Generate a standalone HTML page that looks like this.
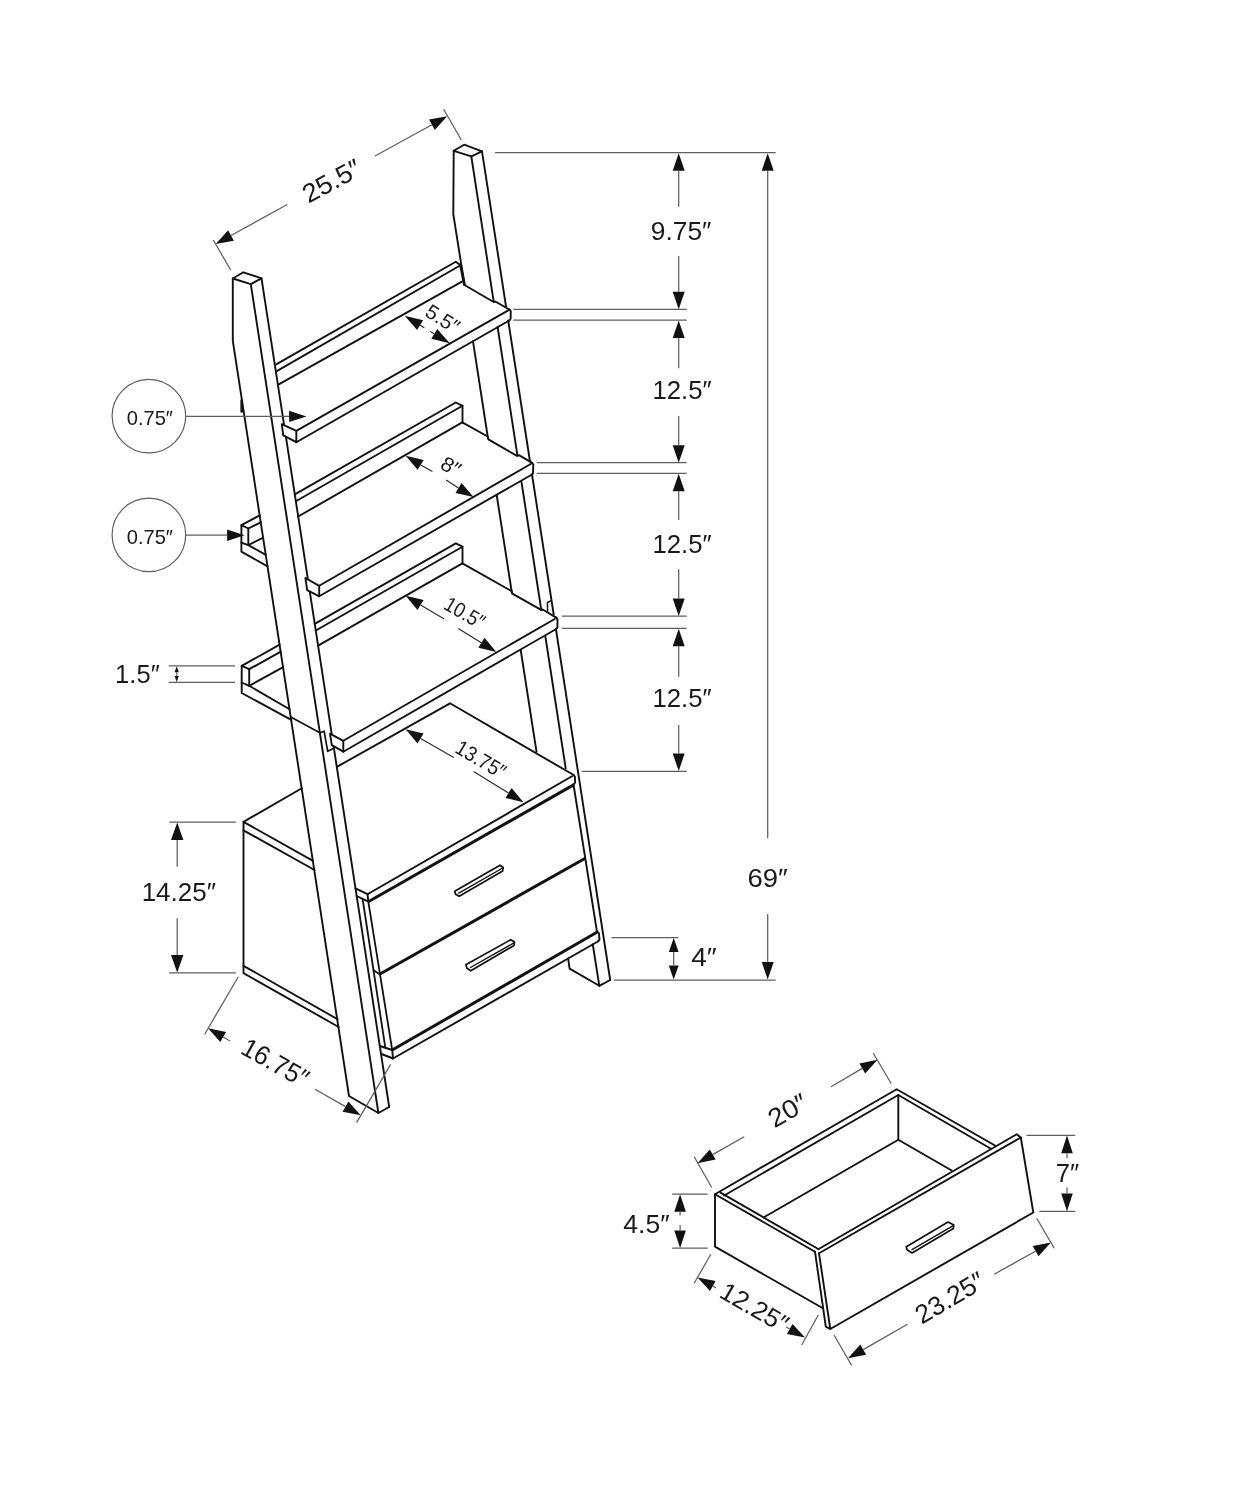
<!DOCTYPE html>
<html><head><meta charset="utf-8"><title>Ladder bookcase dimensions</title>
<style>
html,body{margin:0;padding:0;background:#fff}
body{width:1236px;height:1500px;overflow:hidden}
svg{display:block;filter:grayscale(1)}
text{font-family:"Liberation Sans",sans-serif}
</style></head><body>
<svg width="1236" height="1500" viewBox="0 0 1236 1500">
<rect width="1236" height="1500" fill="#fff"/>
<path d="M232.8 278.5 L243.3 272.3 L261.5 278.3 L250.8 284.2 L232.8 278.5" stroke="#111" stroke-width="1.9" fill="none" stroke-linecap="round" stroke-linejoin="round"/>
<path d="M232.8 278.5 L232.8 340.8 L349 1096 L378.4 1113 L389.2 1107" stroke="#111" stroke-width="1.9" fill="none" stroke-linecap="round" stroke-linejoin="round"/>
<path d="M250.8 284.2 L378.4 1113" stroke="#111" stroke-width="1.9" fill="none" stroke-linecap="round" stroke-linejoin="round"/>
<path d="M261.5 278.3 L389.2 1107" stroke="#111" stroke-width="1.9" fill="none" stroke-linecap="round" stroke-linejoin="round"/>
<path d="M241.7 400.5 L241.7 411.5" stroke="#111" stroke-width="2.6" fill="none" stroke-linecap="round" stroke-linejoin="round"/>
<path d="M453.7 150.8 L464.2 144.7 L482 151.3 L471.3 156.3 L453.7 150.8" stroke="#111" stroke-width="1.9" fill="none" stroke-linecap="round" stroke-linejoin="round"/>
<path d="M453.7 150.8 L453.3 214.2 L464.5 285" stroke="#111" stroke-width="1.9" fill="none" stroke-linecap="round" stroke-linejoin="round"/>
<path d="M460.6 265.2 L464.4 284.5" stroke="#111" stroke-width="2.8" fill="none" stroke-linecap="round" stroke-linejoin="round"/>
<path d="M471.3 156.3 L493.7 301.7" stroke="#111" stroke-width="1.9" fill="none" stroke-linecap="round" stroke-linejoin="round"/>
<path d="M482 151.3 L506.1 307" stroke="#111" stroke-width="1.9" fill="none" stroke-linecap="round" stroke-linejoin="round"/>
<path d="M473 341.4 L488 438.5" stroke="#111" stroke-width="1.9" fill="none" stroke-linecap="round" stroke-linejoin="round"/>
<path d="M497.6 327 L517.5 455.8" stroke="#111" stroke-width="1.9" fill="none" stroke-linecap="round" stroke-linejoin="round"/>
<path d="M508.2 320.5 L530 461.5" stroke="#111" stroke-width="1.9" fill="none" stroke-linecap="round" stroke-linejoin="round"/>
<path d="M496.7 495 L511.9 593" stroke="#111" stroke-width="1.9" fill="none" stroke-linecap="round" stroke-linejoin="round"/>
<path d="M521.4 481.5 L541.3 610" stroke="#111" stroke-width="1.9" fill="none" stroke-linecap="round" stroke-linejoin="round"/>
<path d="M532 474.5 L553.7 614.5" stroke="#111" stroke-width="1.9" fill="none" stroke-linecap="round" stroke-linejoin="round"/>
<path d="M547.5 611.7 L547.5 602.5 L550.8 600.8" stroke="#111" stroke-width="1.5" fill="none" stroke-linecap="round" stroke-linejoin="round"/>
<path d="M520.7 650 L536.5 751.7" stroke="#111" stroke-width="1.9" fill="none" stroke-linecap="round" stroke-linejoin="round"/>
<path d="M545.3 636 L565.7 768.3" stroke="#111" stroke-width="1.9" fill="none" stroke-linecap="round" stroke-linejoin="round"/>
<path d="M556 629.5 L610.2 980" stroke="#111" stroke-width="1.9" fill="none" stroke-linecap="round" stroke-linejoin="round"/>
<path d="M568.2 958.8 L569.6 968.6 L599.3 985.8 L610.2 980" stroke="#111" stroke-width="1.9" fill="none" stroke-linecap="round" stroke-linejoin="round"/>
<path d="M592.8 944.5 L599.3 985.8" stroke="#111" stroke-width="1.9" fill="none" stroke-linecap="round" stroke-linejoin="round"/>
<path d="M274.9 365.1 L455.8 261.7 L460.5 265.2" stroke="#111" stroke-width="1.9" fill="none" stroke-linecap="round" stroke-linejoin="round"/>
<path d="M275.9 371.6 L460.5 265.2" stroke="#111" stroke-width="1.9" fill="none" stroke-linecap="round" stroke-linejoin="round"/>
<path d="M277.9 384.8 L461.9 281.6" stroke="#111" stroke-width="1.9" fill="none" stroke-linecap="round" stroke-linejoin="round"/>
<path d="M464.5 285 L493.6 302 L495.3 301.5 L509.7 309.7" stroke="#111" stroke-width="1.9" fill="none" stroke-linecap="round" stroke-linejoin="round"/>
<path d="M296.3 430.8 L508.7 310.2" stroke="#111" stroke-width="1.9" fill="none" stroke-linecap="round" stroke-linejoin="round"/>
<path d="M296.3 442.2 L509.3 320.5" stroke="#111" stroke-width="1.9" fill="none" stroke-linecap="round" stroke-linejoin="round"/>
<path d="M509.7 309.7 L510.8 311.3 L510.6 319 L509.4 320.5" stroke="#111" stroke-width="1.9" fill="none" stroke-linecap="round" stroke-linejoin="round"/>
<path d="M294.8 494.3 L455.8 402.5 L462.5 405.8 L462.5 422.5" stroke="#111" stroke-width="1.9" fill="none" stroke-linecap="round" stroke-linejoin="round"/>
<path d="M295.9 501.3 L462.5 405.8" stroke="#111" stroke-width="1.9" fill="none" stroke-linecap="round" stroke-linejoin="round"/>
<path d="M298.2 516.5 L462.3 422.4 L487.7 436.5 L488.4 439.4 L516.9 455.9 L518.9 455.1 L532.2 462.9" stroke="#111" stroke-width="1.9" fill="none" stroke-linecap="round" stroke-linejoin="round"/>
<path d="M319.2 585.8 L530.7 464" stroke="#111" stroke-width="1.9" fill="none" stroke-linecap="round" stroke-linejoin="round"/>
<path d="M319.2 596.3 L532.5 474.2" stroke="#111" stroke-width="1.9" fill="none" stroke-linecap="round" stroke-linejoin="round"/>
<path d="M532.2 462.9 L533.3 464.6 L533 473 L532.2 474.3" stroke="#111" stroke-width="1.9" fill="none" stroke-linecap="round" stroke-linejoin="round"/>
<path d="M259.7 515.4 L241.4 525.2 L241.4 551.7 L267.6 566.3" stroke="#111" stroke-width="1.9" fill="none" stroke-linecap="round" stroke-linejoin="round"/>
<path d="M241.4 525.2 L248.3 528.5 L260.8 522.3" stroke="#111" stroke-width="1.9" fill="none" stroke-linecap="round" stroke-linejoin="round"/>
<path d="M248.3 528.5 L248.3 545.1" stroke="#111" stroke-width="1.9" fill="none" stroke-linecap="round" stroke-linejoin="round"/>
<path d="M241.4 542.6 L248.3 545.1 L265.8 554.8" stroke="#111" stroke-width="1.9" fill="none" stroke-linecap="round" stroke-linejoin="round"/>
<path d="M248.3 545.1 L263.2 537.7" stroke="#111" stroke-width="1.9" fill="none" stroke-linecap="round" stroke-linejoin="round"/>
<path d="M314.7 623.8 L455.8 543.3 L462.5 546.7 L462.5 563.3" stroke="#111" stroke-width="1.9" fill="none" stroke-linecap="round" stroke-linejoin="round"/>
<path d="M315.8 630.5 L462.5 546.7" stroke="#111" stroke-width="1.9" fill="none" stroke-linecap="round" stroke-linejoin="round"/>
<path d="M318.1 645.6 L462.4 563.3 L511.7 591.2 L512.3 593.7 L541.1 609.8 L542.7 609.5 L556.2 617.6" stroke="#111" stroke-width="1.9" fill="none" stroke-linecap="round" stroke-linejoin="round"/>
<path d="M343.3 740.8 L554.7 619" stroke="#111" stroke-width="1.9" fill="none" stroke-linecap="round" stroke-linejoin="round"/>
<path d="M343.3 751.7 L555.8 629.2" stroke="#111" stroke-width="1.9" fill="none" stroke-linecap="round" stroke-linejoin="round"/>
<path d="M556.2 617.6 L557.5 619.3 L557.4 627.5 L555.9 629.2" stroke="#111" stroke-width="1.9" fill="none" stroke-linecap="round" stroke-linejoin="round"/>
<path d="M279.7 644.7 L241.7 665.8 L241.7 693 L291.3 719.8" stroke="#111" stroke-width="1.9" fill="none" stroke-linecap="round" stroke-linejoin="round"/>
<path d="M241.7 665.8 L249.2 669.2 L280.8 651.7" stroke="#111" stroke-width="1.9" fill="none" stroke-linecap="round" stroke-linejoin="round"/>
<path d="M249.2 669.2 L249.2 685.8" stroke="#111" stroke-width="1.9" fill="none" stroke-linecap="round" stroke-linejoin="round"/>
<path d="M241.7 682.5 L249.2 685.8 L289.6 709.2" stroke="#111" stroke-width="1.9" fill="none" stroke-linecap="round" stroke-linejoin="round"/>
<path d="M249.2 685.8 L283.2 667.2" stroke="#111" stroke-width="1.9" fill="none" stroke-linecap="round" stroke-linejoin="round"/>
<path d="M290.8 716.9 L319.8 732.8" stroke="#111" stroke-width="1.7" fill="none" stroke-linecap="round" stroke-linejoin="round"/>
<path d="M319.8 732.8 L324.1 731.2 L327.7 751.3 L333.3 748.5" stroke="#111" stroke-width="1.7" fill="none" stroke-linecap="round" stroke-linejoin="round"/>
<path d="M281.8 424.2 L296.3 430.8 L296.3 442.2 L283.2 435.3 Z" fill="#fff" stroke="#111" stroke-width="1.9" stroke-linejoin="round"/>
<path d="M305.4 578 L319.2 585.8 L319.2 596.3 L307.2 590.2 Z" fill="#fff" stroke="#111" stroke-width="1.9" stroke-linejoin="round"/>
<path d="M330 733.6 L343.3 740.8 L343.3 751.7 L331.8 745.2 Z" fill="#fff" stroke="#111" stroke-width="1.9" stroke-linejoin="round"/>
<path d="M301.8 788.3 L243.5 821.9 L313 860.8" stroke="#111" stroke-width="1.9" fill="none" stroke-linecap="round" stroke-linejoin="round"/>
<path d="M243.5 830.3 L314.5 870" stroke="#111" stroke-width="1.9" fill="none" stroke-linecap="round" stroke-linejoin="round"/>
<path d="M243.5 821.9 L243.5 973.2 L338.7 1027" stroke="#111" stroke-width="1.9" fill="none" stroke-linecap="round" stroke-linejoin="round"/>
<path d="M243.5 965.8 L337.5 1019.2" stroke="#111" stroke-width="1.9" fill="none" stroke-linecap="round" stroke-linejoin="round"/>
<path d="M336.8 766.9 L450 703.3 L573.3 774.8" stroke="#111" stroke-width="1.9" fill="none" stroke-linecap="round" stroke-linejoin="round"/>
<path d="M367.5 894.2 L572 776.3" stroke="#111" stroke-width="1.9" fill="none" stroke-linecap="round" stroke-linejoin="round"/>
<path d="M368.3 901.7 L573.6 784.9" stroke="#111" stroke-width="3.0" fill="none" stroke-linecap="butt" stroke-linejoin="round"/>
<path d="M573.3 774.8 L574.9 776.6 L575.1 782.5 L573.6 784.6" stroke="#111" stroke-width="1.9" fill="none" stroke-linecap="round" stroke-linejoin="round"/>
<path d="M355.5 888.3 L367.5 894.2 L368.3 901.7 L356.7 896" stroke="#111" stroke-width="1.9" fill="none" stroke-linecap="round" stroke-linejoin="round"/>
<path d="M362.7 899.5 L385.3 1047.6" stroke="#111" stroke-width="1.8" fill="none" stroke-linecap="round" stroke-linejoin="round"/>
<path d="M373.6 970.3 L379.6 974.3" stroke="#111" stroke-width="1.8" fill="none" stroke-linecap="round" stroke-linejoin="round"/>
<path d="M368.3 901.7 L392.2 1050" stroke="#111" stroke-width="1.8" fill="none" stroke-linecap="round" stroke-linejoin="round"/>
<path d="M380 974 L585.3 858.2" stroke="#111" stroke-width="3.0" fill="none" stroke-linecap="butt" stroke-linejoin="round"/>
<path d="M573.5 784.5 L597 931.8" stroke="#111" stroke-width="1.9" fill="none" stroke-linecap="round" stroke-linejoin="round"/>
<path d="M392.2 1050 L596.9 932.3" stroke="#111" stroke-width="3.0" fill="none" stroke-linecap="butt" stroke-linejoin="round"/>
<path d="M393 1058.5 L598.3 941.2" stroke="#111" stroke-width="1.9" fill="none" stroke-linecap="round" stroke-linejoin="round"/>
<path d="M596.7 931.3 L598.9 933.2 L599.5 939.6 L598.2 941.2" stroke="#111" stroke-width="1.9" fill="none" stroke-linecap="round" stroke-linejoin="round"/>
<path d="M379.8 1046 L392.2 1050 L393 1058.5 L381.5 1054" stroke="#111" stroke-width="1.9" fill="none" stroke-linecap="round" stroke-linejoin="round"/>
<path d="M454.7 891.3 L500 865.3 L503.2 867.5 L502.7 871 L459.2 896.3 L455.6 894.2 L454.7 891.3" stroke="#111" stroke-width="1.7" fill="none" stroke-linecap="round" stroke-linejoin="round"/>
<path d="M458.8 893.2 L502.7 868" stroke="#111" stroke-width="1.4" fill="none" stroke-linecap="round" stroke-linejoin="round"/>
<path d="M465.8 964.8 L510.8 939.7 L514.5 942 L514 945.5 L470.8 970.8 L467 968.3 L465.8 964.8" stroke="#111" stroke-width="1.7" fill="none" stroke-linecap="round" stroke-linejoin="round"/>
<path d="M470.5 967.5 L514 942.8" stroke="#111" stroke-width="1.4" fill="none" stroke-linecap="round" stroke-linejoin="round"/>
<path d="M715 1194.2 L896.7 1089.2 L995 1145.5" stroke="#111" stroke-width="1.9" fill="none" stroke-linecap="round" stroke-linejoin="round"/>
<path d="M724.2 1195.5 L898.3 1095 L990.5 1148.5" stroke="#111" stroke-width="1.9" fill="none" stroke-linecap="round" stroke-linejoin="round"/>
<path d="M715 1194.2 L815 1251.7" stroke="#111" stroke-width="1.9" fill="none" stroke-linecap="round" stroke-linejoin="round"/>
<path d="M720.5 1192.6 L818.3 1249" stroke="#111" stroke-width="1.9" fill="none" stroke-linecap="round" stroke-linejoin="round"/>
<path d="M898.3 1095 L898.3 1139.7 L951.7 1170.5" stroke="#111" stroke-width="1.9" fill="none" stroke-linecap="round" stroke-linejoin="round"/>
<path d="M763.5 1217.5 L898.3 1139.7" stroke="#111" stroke-width="1.9" fill="none" stroke-linecap="round" stroke-linejoin="round"/>
<path d="M715 1194.2 L715 1246.7 L822.5 1308" stroke="#111" stroke-width="1.9" fill="none" stroke-linecap="round" stroke-linejoin="round"/>
<path d="M818.3 1249.2 L1016.7 1134.2 L1020.8 1137.5 L1033.3 1212.5 L830.3 1329" stroke="#111" stroke-width="1.9" fill="none" stroke-linecap="round" stroke-linejoin="round"/>
<path d="M819 1253.3 L1020.8 1137.5" stroke="#111" stroke-width="1.9" fill="none" stroke-linecap="round" stroke-linejoin="round"/>
<path d="M815 1251.7 L825.8 1326.7 L830.3 1329 L819 1253.3" stroke="#111" stroke-width="1.9" fill="none" stroke-linecap="round" stroke-linejoin="round"/>
<path d="M906.3 1246.7 L948 1222 L953.8 1225 L953.4 1228.5 L912 1253 L907 1249.7 L906.3 1246.7" stroke="#111" stroke-width="1.7" fill="none" stroke-linecap="round" stroke-linejoin="round"/>
<path d="M912 1249.7 L953.3 1225.6" stroke="#111" stroke-width="1.4" fill="none" stroke-linecap="round" stroke-linejoin="round"/>
<path d="M213.3 240 L230.7 270" stroke="#5e5e5e" stroke-width="1.25" fill="none" stroke-linecap="butt" stroke-linejoin="round"/>
<path d="M443.7 109.2 L461.3 140" stroke="#5e5e5e" stroke-width="1.25" fill="none" stroke-linecap="butt" stroke-linejoin="round"/>
<polygon points="215.7,244 228.1,230.3 233.9,240.8" fill="#111"/>
<path d="M231 235.5 L287.3 204.5" stroke="#5e5e5e" stroke-width="1.25" fill="none" stroke-linecap="butt" stroke-linejoin="round"/>
<polygon points="447.2,116.2 434.8,129.9 429,119.4" fill="#111"/>
<path d="M431.9 124.7 L375 156" stroke="#5e5e5e" stroke-width="1.25" fill="none" stroke-linecap="butt" stroke-linejoin="round"/>
<text transform="translate(335.9 188.9) rotate(-28.5)" font-size="26.3" text-anchor="middle" textLength="62.5" lengthAdjust="spacingAndGlyphs" fill="#1a1a1a">25.5″</text>
<path d="M495 152.7 L775.7 152.7" stroke="#5e5e5e" stroke-width="1.25" fill="none" stroke-linecap="butt" stroke-linejoin="round"/>
<path d="M513.3 309.3 L686.7 309.3" stroke="#5e5e5e" stroke-width="1.25" fill="none" stroke-linecap="butt" stroke-linejoin="round"/>
<path d="M513.3 320 L686.7 320" stroke="#5e5e5e" stroke-width="1.25" fill="none" stroke-linecap="butt" stroke-linejoin="round"/>
<path d="M536.7 462.7 L686.7 462.7" stroke="#5e5e5e" stroke-width="1.25" fill="none" stroke-linecap="butt" stroke-linejoin="round"/>
<path d="M536.7 473.3 L686.7 473.3" stroke="#5e5e5e" stroke-width="1.25" fill="none" stroke-linecap="butt" stroke-linejoin="round"/>
<path d="M562 616 L686.7 616" stroke="#5e5e5e" stroke-width="1.25" fill="none" stroke-linecap="butt" stroke-linejoin="round"/>
<path d="M562 628.3 L686.7 628.3" stroke="#5e5e5e" stroke-width="1.25" fill="none" stroke-linecap="butt" stroke-linejoin="round"/>
<path d="M581.7 771.3 L686.7 771.3" stroke="#5e5e5e" stroke-width="1.25" fill="none" stroke-linecap="butt" stroke-linejoin="round"/>
<path d="M611.5 937.6 L678.3 937.6" stroke="#5e5e5e" stroke-width="1.25" fill="none" stroke-linecap="butt" stroke-linejoin="round"/>
<path d="M614 980 L775.7 980" stroke="#5e5e5e" stroke-width="1.25" fill="none" stroke-linecap="butt" stroke-linejoin="round"/>
<polygon points="678.7,153.2 684.7,170.7 672.7,170.7" fill="#111"/>
<path d="M678.7 170.7 L678.7 206.7" stroke="#5e5e5e" stroke-width="1.25" fill="none" stroke-linecap="butt" stroke-linejoin="round"/>
<polygon points="678.7,309.3 672.7,291.8 684.7,291.8" fill="#111"/>
<path d="M678.7 291.8 L678.7 256" stroke="#5e5e5e" stroke-width="1.25" fill="none" stroke-linecap="butt" stroke-linejoin="round"/>
<text transform="translate(681.1 240) rotate(0)" font-size="26.6" text-anchor="middle" textLength="60.6" lengthAdjust="spacingAndGlyphs" fill="#1a1a1a">9.75″</text>
<polygon points="678.7,320.5 684.7,338 672.7,338" fill="#111"/>
<path d="M678.7 338 L678.7 368.3" stroke="#5e5e5e" stroke-width="1.25" fill="none" stroke-linecap="butt" stroke-linejoin="round"/>
<polygon points="678.7,462.7 672.7,445.2 684.7,445.2" fill="#111"/>
<path d="M678.7 445.2 L678.7 416" stroke="#5e5e5e" stroke-width="1.25" fill="none" stroke-linecap="butt" stroke-linejoin="round"/>
<text transform="translate(682 399.3) rotate(0)" font-size="26.6" text-anchor="middle" textLength="59.2" lengthAdjust="spacingAndGlyphs" fill="#1a1a1a">12.5″</text>
<polygon points="678.7,473.8 684.7,491.3 672.7,491.3" fill="#111"/>
<path d="M678.7 491.3 L678.7 520" stroke="#5e5e5e" stroke-width="1.25" fill="none" stroke-linecap="butt" stroke-linejoin="round"/>
<polygon points="678.7,616 672.7,598.5 684.7,598.5" fill="#111"/>
<path d="M678.7 598.5 L678.7 569.3" stroke="#5e5e5e" stroke-width="1.25" fill="none" stroke-linecap="butt" stroke-linejoin="round"/>
<text transform="translate(682 552.6) rotate(0)" font-size="26.6" text-anchor="middle" textLength="59.2" lengthAdjust="spacingAndGlyphs" fill="#1a1a1a">12.5″</text>
<polygon points="678.7,628.8 684.7,646.3 672.7,646.3" fill="#111"/>
<path d="M678.7 646.3 L678.7 676.7" stroke="#5e5e5e" stroke-width="1.25" fill="none" stroke-linecap="butt" stroke-linejoin="round"/>
<polygon points="678.7,771 672.7,753.5 684.7,753.5" fill="#111"/>
<path d="M678.7 753.5 L678.7 725" stroke="#5e5e5e" stroke-width="1.25" fill="none" stroke-linecap="butt" stroke-linejoin="round"/>
<text transform="translate(682 707) rotate(0)" font-size="26.6" text-anchor="middle" textLength="59.2" lengthAdjust="spacingAndGlyphs" fill="#1a1a1a">12.5″</text>
<polygon points="767.7,153.2 773.7,170.7 761.7,170.7" fill="#111"/>
<path d="M767.7 170.7 L767.7 838.3" stroke="#5e5e5e" stroke-width="1.25" fill="none" stroke-linecap="butt" stroke-linejoin="round"/>
<polygon points="767.7,979.5 761.7,962 773.7,962" fill="#111"/>
<path d="M767.7 962 L767.7 914" stroke="#5e5e5e" stroke-width="1.25" fill="none" stroke-linecap="butt" stroke-linejoin="round"/>
<text transform="translate(767.5 887) rotate(0)" font-size="26.6" text-anchor="middle" textLength="40.2" lengthAdjust="spacingAndGlyphs" fill="#1a1a1a">69″</text>
<polygon points="673.7,937.9 678.6,951.9 668.8,951.9" fill="#111"/>
<path d="M673.7 951.9 L673.7 958.7" stroke="#5e5e5e" stroke-width="1.25" fill="none" stroke-linecap="butt" stroke-linejoin="round"/>
<polygon points="673.7,979.5 668.8,965.5 678.6,965.5" fill="#111"/>
<path d="M673.7 965.5 L673.7 958.7" stroke="#5e5e5e" stroke-width="1.25" fill="none" stroke-linecap="butt" stroke-linejoin="round"/>
<text transform="translate(704 966.2) rotate(0)" font-size="26.6" text-anchor="middle" textLength="25.5" lengthAdjust="spacingAndGlyphs" fill="#1a1a1a">4″</text>
<circle cx="148.9" cy="416.1" r="36.8" fill="none" stroke="#5e5e5e" stroke-width="1.2"/>
<text transform="translate(149.8 425.2) rotate(0)" font-size="20.2" text-anchor="middle" textLength="46.2" lengthAdjust="spacingAndGlyphs" fill="#1a1a1a">0.75″</text>
<polygon points="306.5,416.4 289.1,422.1 289.1,410.7" fill="#111"/>
<path d="M185.7 416.4 L289.1 416.4" stroke="#5e5e5e" stroke-width="1.25" fill="none" stroke-linecap="butt" stroke-linejoin="round"/>
<circle cx="148.9" cy="534.9" r="36.8" fill="none" stroke="#5e5e5e" stroke-width="1.2"/>
<text transform="translate(149.8 543.8) rotate(0)" font-size="20.2" text-anchor="middle" textLength="46.2" lengthAdjust="spacingAndGlyphs" fill="#1a1a1a">0.75″</text>
<polygon points="244.5,535.2 227.1,540.9 227.1,529.5" fill="#111"/>
<path d="M185.7 535.2 L227.1 535.2" stroke="#5e5e5e" stroke-width="1.25" fill="none" stroke-linecap="butt" stroke-linejoin="round"/>
<text transform="translate(137.4 683.4) rotate(0)" font-size="26.6" text-anchor="middle" textLength="44.6" lengthAdjust="spacingAndGlyphs" fill="#1a1a1a">1.5″</text>
<path d="M168.7 665.8 L235 665.8" stroke="#5e5e5e" stroke-width="1.25" fill="none" stroke-linecap="butt" stroke-linejoin="round"/>
<path d="M168.7 682.4 L235 682.4" stroke="#5e5e5e" stroke-width="1.25" fill="none" stroke-linecap="butt" stroke-linejoin="round"/>
<polygon points="176.7,666.2 178.8,672.2 174.6,672.2" fill="#111"/>
<path d="M176.7 672.2 L176.7 674" stroke="#5e5e5e" stroke-width="1.25" fill="none" stroke-linecap="butt" stroke-linejoin="round"/>
<polygon points="176.7,682 174.6,676 178.8,676" fill="#111"/>
<path d="M176.7 676 L176.7 674.2" stroke="#5e5e5e" stroke-width="1.25" fill="none" stroke-linecap="butt" stroke-linejoin="round"/>
<path d="M169.2 822.2 L235.8 822.2" stroke="#5e5e5e" stroke-width="1.25" fill="none" stroke-linecap="butt" stroke-linejoin="round"/>
<path d="M169.2 972.8 L235.8 972.8" stroke="#5e5e5e" stroke-width="1.25" fill="none" stroke-linecap="butt" stroke-linejoin="round"/>
<polygon points="177.2,822.6 183.4,840.1 171,840.1" fill="#111"/>
<path d="M177.2 840.1 L177.2 866.7" stroke="#5e5e5e" stroke-width="1.25" fill="none" stroke-linecap="butt" stroke-linejoin="round"/>
<polygon points="177.2,972.4 171,954.9 183.4,954.9" fill="#111"/>
<path d="M177.2 954.9 L177.2 918.3" stroke="#5e5e5e" stroke-width="1.25" fill="none" stroke-linecap="butt" stroke-linejoin="round"/>
<text transform="translate(178.8 900.6) rotate(0)" font-size="26.6" text-anchor="middle" textLength="74.3" lengthAdjust="spacingAndGlyphs" fill="#1a1a1a">14.25″</text>
<polygon points="404.7,315.8 423.1,320.2 417.1,330.1" fill="#111"/>
<path d="M420.1 325.2 L424.3 327.7" stroke="#2a2a2a" stroke-width="1.15" fill="none" stroke-linecap="butt" stroke-linejoin="round"/>
<polygon points="449.7,343.2 431.3,338.8 437.3,328.9" fill="#111"/>
<path d="M434.3 333.8 L430.2 331.4" stroke="#2a2a2a" stroke-width="1.15" fill="none" stroke-linecap="butt" stroke-linejoin="round"/>
<text transform="translate(439 324.8) rotate(32)" font-size="20.3" text-anchor="middle" textLength="36" lengthAdjust="spacingAndGlyphs" fill="#1a1a1a">5.5″</text>
<polygon points="405.7,455.8 423.7,459.9 417.6,469.8" fill="#111"/>
<path d="M420.7 464.9 L432.4 471.4" stroke="#2a2a2a" stroke-width="1.15" fill="none" stroke-linecap="butt" stroke-linejoin="round"/>
<polygon points="473.5,497 455.5,492.9 461.6,483" fill="#111"/>
<path d="M458.5 487.9 L446.1 480" stroke="#2a2a2a" stroke-width="1.15" fill="none" stroke-linecap="butt" stroke-linejoin="round"/>
<text transform="translate(447.4 472.5) rotate(30)" font-size="20.5" text-anchor="middle" textLength="19.5" lengthAdjust="spacingAndGlyphs" fill="#1a1a1a">8″</text>
<polygon points="405.7,595.8 423.6,600.1 417.5,610" fill="#111"/>
<path d="M420.6 605 L444.2 619" stroke="#2a2a2a" stroke-width="1.15" fill="none" stroke-linecap="butt" stroke-linejoin="round"/>
<polygon points="496.3,652 478.4,647.7 484.5,637.8" fill="#111"/>
<path d="M481.4 642.8 L458.3 628.6" stroke="#2a2a2a" stroke-width="1.15" fill="none" stroke-linecap="butt" stroke-linejoin="round"/>
<text transform="translate(461.1 619.1) rotate(30)" font-size="21" text-anchor="middle" textLength="43" lengthAdjust="spacingAndGlyphs" fill="#1a1a1a">10.5″</text>
<polygon points="405.7,729.2 423.6,733.5 417.5,743.4" fill="#111"/>
<path d="M420.6 738.4 L453.8 757.5" stroke="#2a2a2a" stroke-width="1.15" fill="none" stroke-linecap="butt" stroke-linejoin="round"/>
<polygon points="523.4,802.2 505.5,797.9 511.6,788" fill="#111"/>
<path d="M508.5 793 L473.6 771.6" stroke="#2a2a2a" stroke-width="1.15" fill="none" stroke-linecap="butt" stroke-linejoin="round"/>
<text transform="translate(477.2 765.7) rotate(30.5)" font-size="21" text-anchor="middle" textLength="54.5" lengthAdjust="spacingAndGlyphs" fill="#1a1a1a">13.75″</text>
<path d="M238.3 976.7 L204.7 1034.2" stroke="#5e5e5e" stroke-width="1.25" fill="none" stroke-linecap="butt" stroke-linejoin="round"/>
<path d="M390.6 1064.4 L356.6 1122.6" stroke="#5e5e5e" stroke-width="1.25" fill="none" stroke-linecap="butt" stroke-linejoin="round"/>
<polygon points="208,1028.3 226.1,1031.9 220.3,1042" fill="#111"/>
<path d="M223.2 1037 L230 1041" stroke="#5e5e5e" stroke-width="1.25" fill="none" stroke-linecap="butt" stroke-linejoin="round"/>
<polygon points="360.7,1115.3 342.6,1111.7 348.4,1101.6" fill="#111"/>
<path d="M345.5 1106.6 L315 1089.2" stroke="#5e5e5e" stroke-width="1.25" fill="none" stroke-linecap="butt" stroke-linejoin="round"/>
<text transform="translate(270.8 1070.5) rotate(29.5)" font-size="26.5" text-anchor="middle" textLength="72.5" lengthAdjust="spacingAndGlyphs" fill="#1a1a1a">16.75″</text>
<path d="M694.2 1156.7 L711.7 1187.5" stroke="#5e5e5e" stroke-width="1.25" fill="none" stroke-linecap="butt" stroke-linejoin="round"/>
<path d="M873.3 1053.3 L891.3 1083.7" stroke="#5e5e5e" stroke-width="1.25" fill="none" stroke-linecap="butt" stroke-linejoin="round"/>
<polygon points="697.5,1163.3 709.8,1149.5 715.6,1159.6" fill="#111"/>
<path d="M712.7 1154.6 L744.2 1136.7" stroke="#5e5e5e" stroke-width="1.25" fill="none" stroke-linecap="butt" stroke-linejoin="round"/>
<polygon points="877.5,1059.7 865.2,1073.5 859.4,1063.4" fill="#111"/>
<path d="M862.3 1068.4 L831 1086.7" stroke="#5e5e5e" stroke-width="1.25" fill="none" stroke-linecap="butt" stroke-linejoin="round"/>
<text transform="translate(792.2 1118.2) rotate(-30)" font-size="26.3" text-anchor="middle" textLength="41" lengthAdjust="spacingAndGlyphs" fill="#1a1a1a">20″</text>
<path d="M1026.7 1135.3 L1075.2 1135.3" stroke="#5e5e5e" stroke-width="1.25" fill="none" stroke-linecap="butt" stroke-linejoin="round"/>
<path d="M1039.3 1211.4 L1075.2 1211.4" stroke="#5e5e5e" stroke-width="1.25" fill="none" stroke-linecap="butt" stroke-linejoin="round"/>
<polygon points="1067,1135.6 1072.8,1153.2 1061.2,1153.2" fill="#111"/>
<path d="M1067 1153.2 L1067 1158.3" stroke="#5e5e5e" stroke-width="1.25" fill="none" stroke-linecap="butt" stroke-linejoin="round"/>
<polygon points="1067,1211.2 1061.2,1193.6 1072.8,1193.6" fill="#111"/>
<path d="M1067 1193.6 L1067 1187.5" stroke="#5e5e5e" stroke-width="1.25" fill="none" stroke-linecap="butt" stroke-linejoin="round"/>
<text transform="translate(1067.4 1182.2) rotate(0)" font-size="26.6" text-anchor="middle" textLength="23.4" lengthAdjust="spacingAndGlyphs" fill="#1a1a1a">7″</text>
<path d="M672.1 1194 L707.6 1194" stroke="#5e5e5e" stroke-width="1.25" fill="none" stroke-linecap="butt" stroke-linejoin="round"/>
<path d="M672.1 1248.2 L707.6 1248.2" stroke="#5e5e5e" stroke-width="1.25" fill="none" stroke-linecap="butt" stroke-linejoin="round"/>
<polygon points="680.1,1194.3 685.9,1211.8 674.3,1211.8" fill="#111"/>
<path d="M680.1 1211.8 L680.1 1215.6" stroke="#5e5e5e" stroke-width="1.25" fill="none" stroke-linecap="butt" stroke-linejoin="round"/>
<polygon points="680.1,1248 674.3,1230.5 685.9,1230.5" fill="#111"/>
<path d="M680.1 1230.5 L680.1 1224.9" stroke="#5e5e5e" stroke-width="1.25" fill="none" stroke-linecap="butt" stroke-linejoin="round"/>
<text transform="translate(646.4 1232.7) rotate(0)" font-size="26.6" text-anchor="middle" textLength="46.4" lengthAdjust="spacingAndGlyphs" fill="#1a1a1a">4.5″</text>
<path d="M710.8 1254.2 L694.2 1283.3" stroke="#5e5e5e" stroke-width="1.25" fill="none" stroke-linecap="butt" stroke-linejoin="round"/>
<path d="M818.3 1315 L801.7 1345" stroke="#5e5e5e" stroke-width="1.25" fill="none" stroke-linecap="butt" stroke-linejoin="round"/>
<polygon points="697.5,1277.5 715.6,1281 710,1291.1" fill="#111"/>
<path d="M712.8 1286 L716 1288" stroke="#5e5e5e" stroke-width="1.25" fill="none" stroke-linecap="butt" stroke-linejoin="round"/>
<polygon points="805,1337.5 786.9,1334 792.5,1323.9" fill="#111"/>
<path d="M789.7 1329 L786 1327" stroke="#5e5e5e" stroke-width="1.25" fill="none" stroke-linecap="butt" stroke-linejoin="round"/>
<text transform="translate(750.1 1315.1) rotate(30)" font-size="25.5" text-anchor="middle" textLength="74" lengthAdjust="spacingAndGlyphs" fill="#1a1a1a">12.25″</text>
<path d="M834 1335 L851.7 1365.5" stroke="#5e5e5e" stroke-width="1.25" fill="none" stroke-linecap="butt" stroke-linejoin="round"/>
<path d="M1036.7 1218.3 L1054.2 1248.3" stroke="#5e5e5e" stroke-width="1.25" fill="none" stroke-linecap="butt" stroke-linejoin="round"/>
<polygon points="848,1358.3 860.3,1344.6 866.1,1354.7" fill="#111"/>
<path d="M863.2 1349.6 L907.5 1324.2" stroke="#5e5e5e" stroke-width="1.25" fill="none" stroke-linecap="butt" stroke-linejoin="round"/>
<polygon points="1050.8,1242.5 1038.5,1256.2 1032.7,1246.1" fill="#111"/>
<path d="M1035.6 1251.2 L994.2 1274.2" stroke="#5e5e5e" stroke-width="1.25" fill="none" stroke-linecap="butt" stroke-linejoin="round"/>
<text transform="translate(954.5 1305.4) rotate(-30.5)" font-size="26.3" text-anchor="middle" textLength="76" lengthAdjust="spacingAndGlyphs" fill="#1a1a1a">23.25″</text>
</svg>
</body></html>
